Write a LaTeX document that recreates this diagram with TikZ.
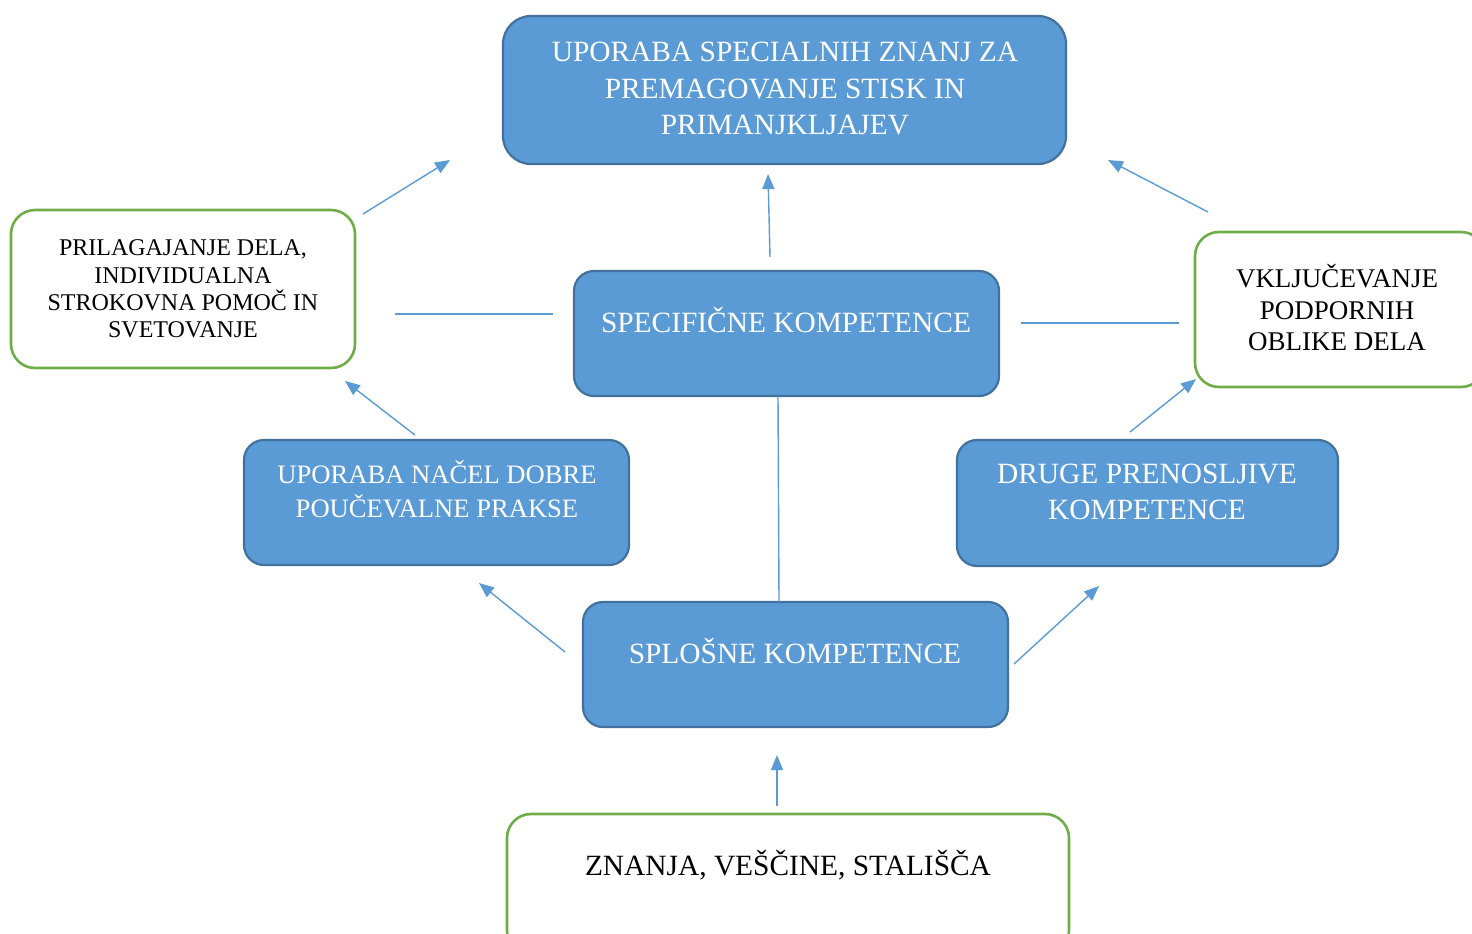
\documentclass[tikz,border=0pt]{standalone}
\usepackage{fontspec}
\setmainfont{Liberation Serif}
\usetikzlibrary{arrows.meta}
\definecolor{boxblue}{HTML}{5B9BD5}
\definecolor{boxedge}{HTML}{41719C}
\definecolor{boxgreen}{HTML}{70AD47}
\definecolor{arrowblue}{HTML}{5B9BD5}
\begin{document}
\begin{tikzpicture}[x=1pt,y=-1pt,
 bluebox/.style={draw=boxedge, fill=boxblue, line width=2.2pt, rounded corners=20pt, inner sep=0pt},
 greenbox/.style={draw=boxgreen, fill=white, line width=2.6pt, rounded corners=24pt, inner sep=0pt},
 wtext/.style={text=white, align=center, font=\fontsize{29.4}{36.5}\selectfont, inner sep=0pt},
 ktext/.style={text=black, align=center, inner sep=0pt},
 conn/.style={draw=arrowblue, line width=1.4pt},
 arr/.style={conn, -{Triangle[length=15pt,width=12pt]}}
]
\useasboundingbox (0,0) rectangle (1472,934);
\clip (0,0) rectangle (1472,934);
% boxes
\node[bluebox, minimum width=563pt, minimum height=148pt, rounded corners=28pt] (top) at (784.5,90) {};
\node[bluebox, minimum width=425pt, minimum height=125pt] (spec) at (786.5,333.5) {};
\node[bluebox, minimum width=385pt, minimum height=125pt] (lb) at (436.5,502.5) {};
\node[bluebox, minimum width=381pt, minimum height=126pt] (rb) at (1147.5,503) {};
\node[bluebox, minimum width=425pt, minimum height=125pt] (spl) at (795.5,664.5) {};
\node[greenbox, minimum width=344pt, minimum height=158pt] (lg) at (183,289) {};
\node[greenbox, minimum width=290pt, minimum height=155pt] (rg) at (1340,309.5) {};
\node[greenbox, minimum width=562pt, minimum height=140pt] (bg) at (788,884) {};
% texts
\node[wtext] (topt) at (785,88.5) {UPORABA SPECIALNIH ZNANJ ZA\\PREMAGOVANJE STISK IN\\PRIMANJKLJAJEV};
\node[wtext] (spect) at (786,320) {SPECIFIČNE KOMPETENCE};
\node[wtext, font=\fontsize{26.6}{34}\selectfont] (lbt) at (437,489) {UPORABA NAČEL DOBRE\\POUČEVALNE PRAKSE};
\node[wtext, font=\fontsize{29.4}{36}\selectfont] (rbt) at (1147,492) {DRUGE PRENOSLJIVE\\KOMPETENCE};
\node[wtext] (splt) at (795,651) {SPLOŠNE KOMPETENCE};
\node[ktext, font=\fontsize{24}{27.3}\selectfont] (lgt) at (183,289) {PRILAGAJANJE DELA,\\INDIVIDUALNA\\STROKOVNA POMOČ IN\\SVETOVANJE};
\node[ktext, font=\fontsize{27}{31.5}\selectfont] (rgt) at (1337,308) {VKLJUČEVANJE\\PODPORNIH\\OBLIKE DELA};
\node[ktext, font=\fontsize{29.4}{36}\selectfont] (bgt) at (788,865) {ZNANJA, VEŠČINE, STALIŠČA};
% connector end points
\coordinate (a1s) at (363,214); \coordinate (a1e) at (450,160);
\coordinate (a2s) at (770,257); \coordinate (a2e) at (768,174);
\coordinate (a3s) at (1208,212); \coordinate (a3e) at (1108,160);
\coordinate (l1s) at (395,314); \coordinate (l1e) at (553,314);
\coordinate (l2s) at (1021,323); \coordinate (l2e) at (1179,323);
\coordinate (a4s) at (415,435); \coordinate (a4e) at (345,381);
\coordinate (a5s) at (1130,432); \coordinate (a5e) at (1196,379);
\coordinate (a6s) at (565,652); \coordinate (a6e) at (479,583);
\coordinate (a7s) at (1014,664); \coordinate (a7e) at (1099,586);
\coordinate (a8s) at (777,806); \coordinate (a8e) at (777,755);
\coordinate (vs) at (778,396); \coordinate (ve) at (779,602);
% connectors
\draw[arr] (a1s) -- (a1e);
\draw[arr] (a2s) -- (a2e);
\draw[arr] (a3s) -- (a3e);
\draw[conn] (l1s) -- (l1e);
\draw[conn] (l2s) -- (l2e);
\draw[arr] (a4s) -- (a4e);
\draw[arr] (a5s) -- (a5e);
\draw[arr] (a6s) -- (a6e);
\draw[arr] (a7s) -- (a7e);
\draw[arr] (a8s) -- (a8e);
\draw[conn] (vs) -- (ve);
\end{tikzpicture}
\end{document}
